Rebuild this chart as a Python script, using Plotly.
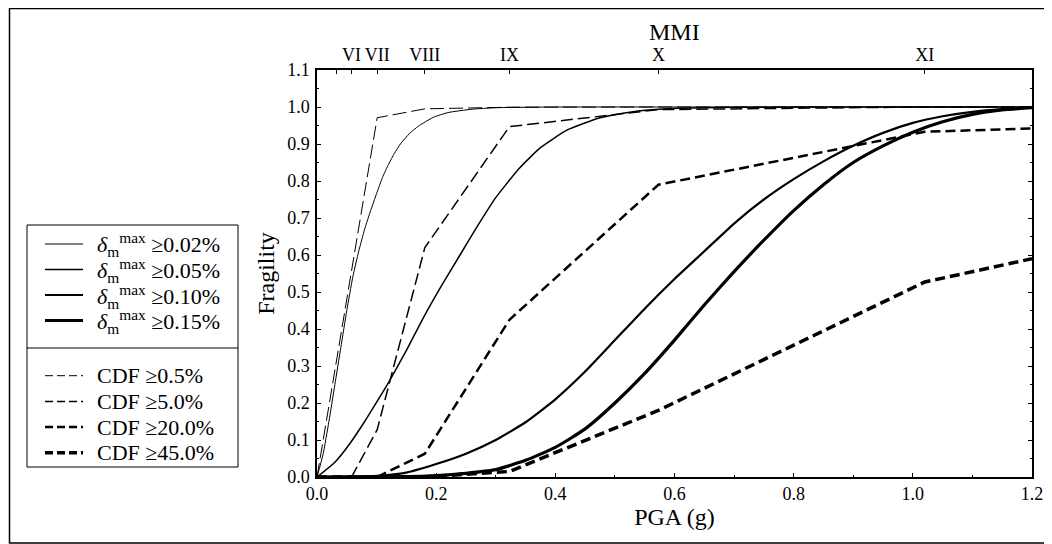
import plotly.graph_objects as go

# ---------------- data ----------------
# Fragility curves (damage states on delta_m^max)
pga_d002 = [0.0, 0.01, 0.02, 0.03, 0.04, 0.05, 0.06, 0.07, 0.08, 0.09, 0.10, 0.11, 0.12, 0.13, 0.14, 0.155, 0.17, 0.195, 0.22, 0.26, 0.30, 0.40, 0.60, 0.90, 1.20]
frag_d002 = [0.0, 0.06, 0.15, 0.25, 0.35, 0.45, 0.54, 0.61, 0.67, 0.72, 0.766, 0.81, 0.845, 0.875, 0.90, 0.928, 0.948, 0.972, 0.985, 0.994, 0.998, 1.0, 1.0, 1.0, 1.0]

pga_d005 = [0.0, 0.03, 0.055, 0.08, 0.105, 0.12, 0.15, 0.18, 0.21, 0.24, 0.27, 0.30, 0.34, 0.375, 0.42, 0.475, 0.53, 0.59, 0.70, 0.90, 1.20]
frag_d005 = [0.0, 0.04, 0.09, 0.15, 0.215, 0.255, 0.342, 0.435, 0.52, 0.60, 0.68, 0.755, 0.835, 0.89, 0.938, 0.971, 0.987, 0.995, 0.999, 1.0, 1.0]

pga_d010 = [0.0, 0.10, 0.15, 0.20, 0.25, 0.30, 0.35, 0.40, 0.45, 0.50, 0.55, 0.60, 0.65, 0.70, 0.75, 0.80, 0.85, 0.90, 0.95, 1.00, 1.05, 1.10, 1.15, 1.20]
frag_d010 = [0.0, 0.003, 0.012, 0.035, 0.063, 0.10, 0.148, 0.21, 0.285, 0.37, 0.455, 0.535, 0.61, 0.685, 0.75, 0.805, 0.853, 0.895, 0.93, 0.957, 0.975, 0.987, 0.994, 0.998]

pga_d015 = [0.0, 0.15, 0.20, 0.25, 0.30, 0.35, 0.40, 0.45, 0.50, 0.55, 0.60, 0.65, 0.70, 0.75, 0.80, 0.85, 0.90, 0.95, 1.00, 1.05, 1.10, 1.15, 1.20]
frag_d015 = [0.0, 0.001, 0.004, 0.01, 0.02, 0.045, 0.08, 0.13, 0.20, 0.28, 0.37, 0.465, 0.555, 0.64, 0.72, 0.79, 0.85, 0.895, 0.932, 0.96, 0.98, 0.992, 0.998]

# Empirical CDF curves (defined at MMI levels)
pga_c05 = [0.0, 0.101, 0.181, 0.323, 0.573, 1.02, 1.20]
frag_c05 = [0.0, 0.971, 0.995, 0.9995, 1.0, 1.0, 1.0]

pga_c5 = [0.0, 0.058, 0.101, 0.181, 0.323, 0.573, 1.02, 1.20]
frag_c5 = [0.0, 0.0, 0.128, 0.62, 0.947, 0.993, 1.0, 1.0]

pga_c20 = [0.0, 0.101, 0.181, 0.323, 0.573, 1.02, 1.20]
frag_c20 = [0.0, 0.0, 0.063, 0.425, 0.79, 0.933, 0.942]

pga_c45 = [0.0, 0.181, 0.323, 0.573, 1.02, 1.20]
frag_c45 = [0.0, 0.0, 0.015, 0.18, 0.527, 0.59]

# MMI top axis
mmi_pga = [0.033, 0.058, 0.101, 0.181, 0.323, 0.573, 1.02]
mmi_labels = ["", "VI", "VII", "VIII", "IX", "X", "XI"]

x_ticks = [0.0, 0.2, 0.4, 0.6, 0.8, 1.0, 1.2]
y_ticks = [0.0, 0.1, 0.2, 0.3, 0.4, 0.5, 0.6, 0.7, 0.8, 0.9, 1.0, 1.1]

delta_names = ["0.02%", "0.05%", "0.10%", "0.15%"]
cdf_names = ["0.5%", "5.0%", "20.0%", "45.0%"]

FONT = "Liberation Serif"

# ---------------- styles ----------------
solid_widths = [1.0, 1.5, 2.2, 3.2]
dash_widths = [1.0, 1.5, 2.5, 3.5]
dash_patterns = ["14px,5px", "12px,5px", "10px,5px", "10px,5px"]

# page is shown with an 8px body margin: figure = page - 8
W, H = 1044, 536
L, R, T, B = 309, 20, 62, 67
pw, ph = W - L - R, H - T - B


def px_x(page_x):
    return (page_x - 8 - L) / pw


def px_y(page_y):
    return (H - B - (page_y - 8)) / ph


fig = go.Figure()

solid_series = [(pga_d002, frag_d002), (pga_d005, frag_d005),
                (pga_d010, frag_d010), (pga_d015, frag_d015)]
for (x, y), w, nm in zip(solid_series, solid_widths, delta_names):
    fig.add_trace(go.Scatter(
        x=x, y=y, mode="lines",
        line=dict(color="black", width=w, shape="spline", smoothing=0.5),
        name="δm max ≥" + nm, showlegend=False))

dash_series = [(pga_c05, frag_c05), (pga_c5, frag_c5), (pga_c20, frag_c20), (pga_c45, frag_c45)]
for (x, y), w, d, nm in zip(dash_series, dash_widths, dash_patterns, cdf_names):
    fig.add_trace(go.Scatter(
        x=x, y=y, mode="lines",
        line=dict(color="black", width=w, dash=d),
        name="CDF ≥" + nm, showlegend=False))

# invisible trace to hold the top MMI axis
fig.add_trace(go.Scatter(x=mmi_pga, y=[None] * len(mmi_pga), xaxis="x2",
                         mode="lines", showlegend=False, hoverinfo="skip"))

# ---------------- legend (drawn by hand, boxed with separator) ----------------
leg_left, leg_right, leg_top, leg_bot = 27, 238, 225, 467
sep_y = 348
delta_rows = [244, 269.5, 295, 320.5]
cdf_rows = [375.7, 401.4, 427.1, 452.8]
sample_x0, sample_x1, text_x = 45, 83, 95

shapes = [
    dict(type="rect", xref="paper", yref="paper",
         x0=px_x(leg_left), x1=px_x(leg_right), y0=px_y(leg_top), y1=px_y(leg_bot),
         line=dict(color="black", width=1), fillcolor="white", layer="above"),
    dict(type="line", xref="paper", yref="paper",
         x0=px_x(leg_left), x1=px_x(leg_right), y0=px_y(sep_y), y1=px_y(sep_y),
         line=dict(color="black", width=1)),
    # outer frame
    dict(type="rect", xref="paper", yref="paper",
         x0=px_x(9.5), x1=px_x(1050), y0=px_y(8.5), y1=px_y(543),
         line=dict(color="black", width=1.5)),
]
annotations = []
for ry, w, nm in zip(delta_rows, solid_widths, delta_names):
    shapes.append(dict(type="line", xref="paper", yref="paper",
                       x0=px_x(sample_x0), x1=px_x(sample_x1), y0=px_y(ry), y1=px_y(ry),
                       line=dict(color="black", width=w)))
    annotations.append(dict(xref="paper", yref="paper", x=px_x(text_x), y=px_y(ry + 1),
                            xanchor="left", yanchor="middle", showarrow=False,
                            text="<i>δ</i><sub>m</sub><sup>max</sup> ≥" + nm,
                            font=dict(family=FONT, size=22, color="black")))
for ry, w, d, nm in zip(cdf_rows, dash_widths, dash_patterns, cdf_names):
    shapes.append(dict(type="line", xref="paper", yref="paper",
                       x0=px_x(sample_x0), x1=px_x(sample_x1), y0=px_y(ry), y1=px_y(ry),
                       line=dict(color="black", width=w, dash="8px,4px")))
    annotations.append(dict(xref="paper", yref="paper", x=px_x(text_x), y=px_y(ry),
                            xanchor="left", yanchor="middle", showarrow=False,
                            text="CDF ≥" + nm,
                            font=dict(family=FONT, size=22, color="black")))

# MMI title (centred over the plot)
annotations.append(dict(xref="paper", yref="paper", x=0.5, y=px_y(32),
                        xanchor="center", yanchor="middle", showarrow=False,
                        text="MMI", font=dict(family=FONT, size=24, color="black")))

fig.update_layout(
    width=W, height=H,
    margin=dict(l=L, r=R, t=T, b=B, autoexpand=False),
    paper_bgcolor="white", plot_bgcolor="white",
    font=dict(family=FONT, size=18, color="black"),
    showlegend=False,
    xaxis=dict(range=[0, 1.2], tickvals=x_ticks, tickformat=".1f",
               ticks="inside", ticklen=4, tickwidth=1, tickcolor="black",
               minor=dict(dtick=0.1, tick0=0, ticks="inside", ticklen=2, tickcolor="black"),
               showline=True, linecolor="black", linewidth=1.5,
               showgrid=False, zeroline=False,
               title=dict(text="PGA (g)", font=dict(size=24), standoff=4)),
    yaxis=dict(range=[0, 1.1], tickvals=y_ticks, tickformat=".1f",
               ticks="inside", ticklen=4, tickwidth=1, tickcolor="black",
               minor=dict(dtick=0.05, tick0=0, ticks="inside", ticklen=2, tickcolor="black"),
               showline=True, linecolor="black", linewidth=1.5, mirror="ticks",
               showgrid=False, zeroline=False, ticklabelstandoff=2,
               title=dict(text="Fragility", font=dict(size=24), standoff=6)),
    xaxis2=dict(overlaying="x", side="top", anchor="y", range=[0, 1.2],
                tickvals=mmi_pga, ticktext=mmi_labels,
                ticks="inside", ticklen=4, tickwidth=1, tickcolor="black",
                showline=True, linecolor="black", linewidth=1.5,
                showgrid=False, zeroline=False),
    shapes=shapes,
    annotations=annotations,
)

fig.write_html("out.html")
